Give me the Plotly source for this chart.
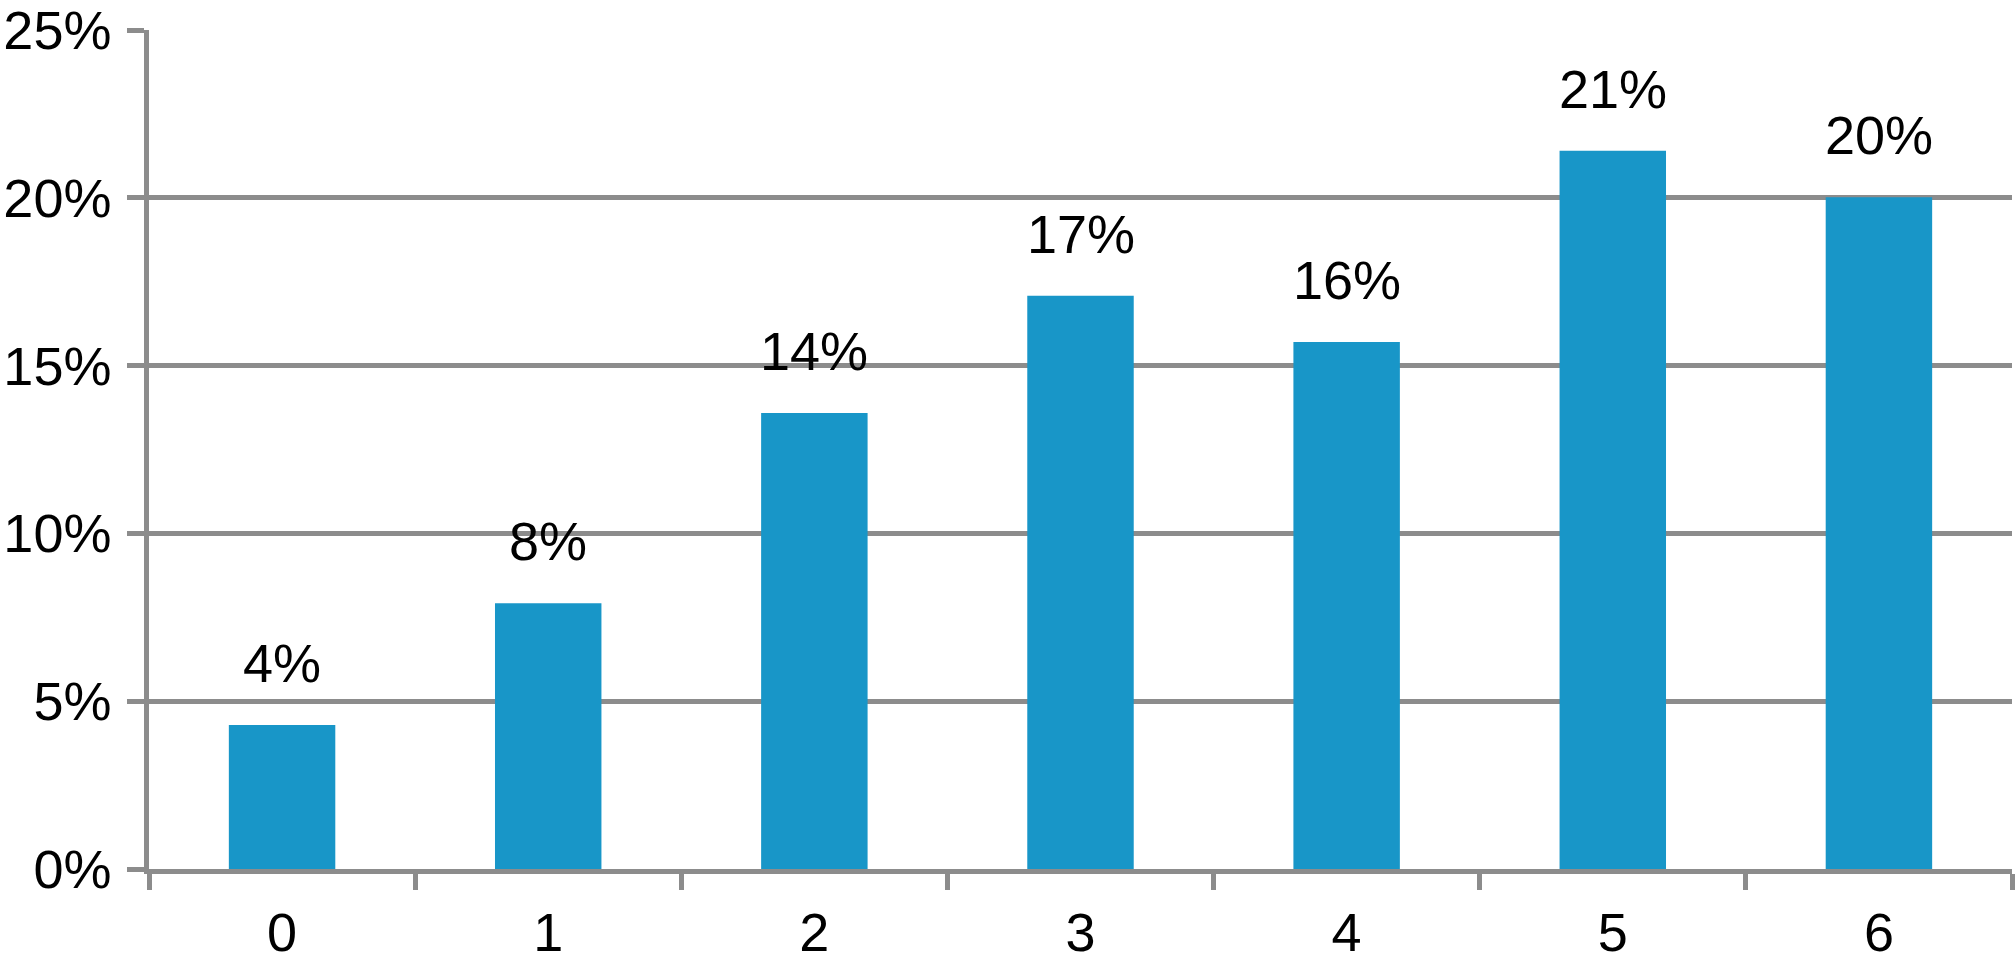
import plotly.graph_objects as go

# share per category, in percent
categories = ["0", "1", "2", "3", "4", "5", "6"]
shares = [4.29, 7.92, 13.59, 17.08, 15.70, 21.40, 20.02]
labels = [f"{round(v)}%" for v in shares]
y_ticks = [0, 5, 10, 15, 20, 25]
y_tick_text = [f"{v}%" for v in y_ticks]

bar_color = "#1896c8"
grey = "#8c8c8c"
font = "Liberation Sans, Arial, sans-serif"

fig = go.Figure()
fig.add_trace(go.Bar(x=categories, y=shares, marker_color=bar_color,
                     marker_line_width=0, width=0.4, hoverinfo="skip"))

# value labels above the bars
for c, v, t in zip(categories, shares, labels):
    fig.add_annotation(x=c, y=v, text=t, showarrow=False, yanchor="middle",
                       yshift=62, font=dict(size=54, color="black", family=font))

fig.update_layout(
    width=2016, height=978,
    margin=dict(l=149, r=4, t=30, b=109, autoexpand=False),
    plot_bgcolor="white", paper_bgcolor="white",
    showlegend=False,
    font=dict(family=font, size=54, color="black"),
)
fig.update_xaxes(
    type="category", showgrid=False, showline=True, linecolor=grey, linewidth=4.5,
    ticks="outside", tickson="boundaries", ticklen=16, tickwidth=4.5, tickcolor=grey,
    tickfont=dict(size=54), ticklabelstandoff=12, automargin=False,
)
fig.update_yaxes(
    range=[0, 25], tickvals=y_ticks, ticktext=y_tick_text,
    showgrid=True, gridcolor=grey, gridwidth=4.5, zeroline=False,
    showline=True, linecolor=grey, linewidth=4.5,
    ticks="outside", ticklen=17, tickwidth=4.5, tickcolor=grey,
    tickfont=dict(size=54), ticklabelstandoff=5, automargin=False,
    ticklabeloverflow="allow",
)

# page has a default 8px body margin, drop it so the figure sits at 0,0
fig.write_html("out.html", config={"displayModeBar": False},
               post_script="document.body.style.margin='0';")
